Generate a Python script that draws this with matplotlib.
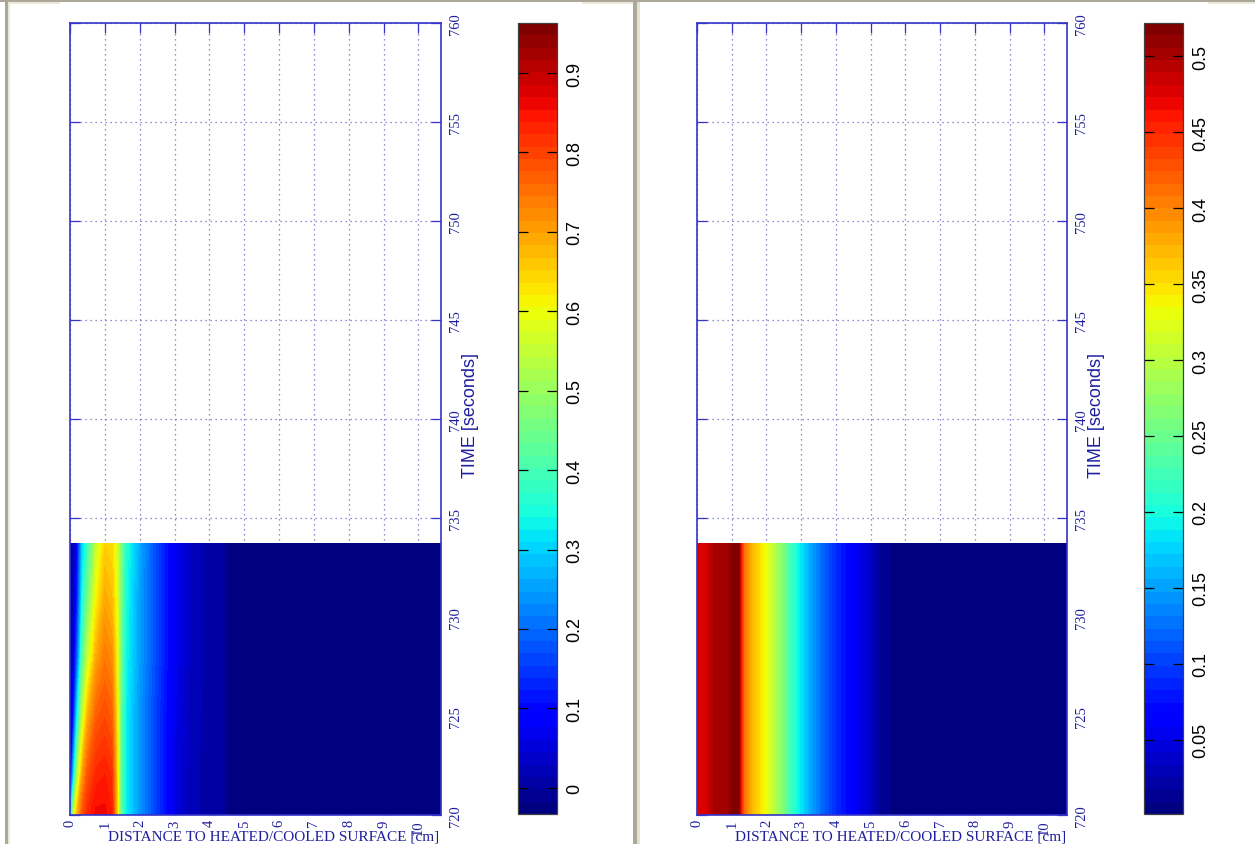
import numpy as np
import matplotlib

matplotlib.use("Agg")
import matplotlib.pyplot as plt
from matplotlib.patches import Rectangle
from matplotlib.ticker import FuncFormatter

# ---- data ----------------------------------------------------------------
# left panel: transient field, rows = time [s], columns = distance [cm]
dist_left = [0, 0.1, 0.2, 0.35, 0.5, 0.75, 1.0, 1.2, 1.35, 1.45, 1.6,
             2.0, 2.5, 3.0, 3.5, 4.0, 4.4, 4.5, 6.0, 8.0, 10.65]
time_left = [720, 722, 725, 728, 731, 733.7]
field_720 = [0.30, 0.55, 0.68, 0.78, 0.83, 0.86, 0.86, 0.84, 0.66, 0.45, 0.33,
             0.24, 0.15, 0.06, 0.02, 0.005, 0.0, -0.02, -0.025, -0.025, -0.025]
field_722 = [0.05, 0.30, 0.52, 0.70, 0.78, 0.83, 0.84, 0.82, 0.65, 0.45, 0.33,
             0.24, 0.15, 0.06, 0.02, 0.005, 0.0, -0.02, -0.025, -0.025, -0.025]
field_725 = [0.00, 0.12, 0.32, 0.55, 0.68, 0.77, 0.79, 0.77, 0.63, 0.45, 0.33,
             0.24, 0.15, 0.065, 0.022, 0.006, 0.0, -0.02, -0.025, -0.025, -0.025]
field_728 = [-0.01, 0.06, 0.18, 0.42, 0.55, 0.69, 0.74, 0.72, 0.61, 0.46, 0.34,
             0.25, 0.16, 0.07, 0.025, 0.007, 0.0, -0.02, -0.025, -0.025, -0.025]
field_731 = [-0.01, 0.03, 0.12, 0.34, 0.45, 0.61, 0.69, 0.67, 0.59, 0.47, 0.35,
             0.25, 0.16, 0.07, 0.025, 0.008, 0.0, -0.02, -0.025, -0.025, -0.025]
field_734 = [-0.01, 0.02, 0.09, 0.30, 0.38, 0.55, 0.65, 0.64, 0.57, 0.48, 0.36,
             0.26, 0.16, 0.07, 0.025, 0.008, 0.0, -0.02, -0.025, -0.025, -0.025]
clim_left = (-0.033, 0.963)
cbar_ticks_left = [0, 0.1, 0.2, 0.3, 0.4, 0.5, 0.6, 0.7, 0.8, 0.9]

# right panel: steady profile, same at every time
dist_right = [0, 0.3, 0.5, 0.9, 1.0, 1.2, 1.27, 1.35, 1.6, 2.0, 2.3, 2.6,
              2.85, 3.2, 3.6, 4.0, 4.5, 5.0, 5.3, 6.0, 10.65]
profile_right = [0.48, 0.48, 0.50, 0.505, 0.515, 0.52, 0.46, 0.41, 0.37, 0.33,
                 0.29, 0.24, 0.20, 0.16, 0.12, 0.09, 0.06, 0.035, 0.012,
                 0.004, 0.002]
time_right = [720, 733.7]
clim_right = (0.001, 0.522)
cbar_ticks_right = [0.05, 0.1, 0.15, 0.2, 0.25, 0.3, 0.35, 0.4, 0.45, 0.5]

x_ticks = list(range(11))
t_ticks = list(range(720, 761, 5))
xlabel = "DISTANCE TO HEATED/COOLED SURFACE [cm]"
ylabel = "TIME [seconds]"

# ---- styling --------------------------------------------------------------
W, H = 1255, 845
AX_BLUE = "#3434c8"
TXT_BLUE = "#1e1e9e"
GRID_BLUE = "#6a6ac0"
SERIF = "Liberation Serif"
SANS = "Liberation Sans"
cmap = plt.get_cmap("jet", 64)


def px_rect(x0, y0, x1, y1):
    """figure-fraction rect from pixel box (top-left origin)."""
    return [x0 / W, 1 - y1 / H, (x1 - x0) / W, (y1 - y0) / H]


def panel(fig, ax_box, cb_box, x, t, z, clim, cticks):
    ax = fig.add_axes(px_rect(*ax_box))
    cax = fig.add_axes(px_rect(*cb_box))
    levels = np.linspace(clim[0], clim[1], 65)
    zz = np.clip(np.asarray(z, dtype=float), clim[0], clim[1])
    cs = ax.contourf(x, t, zz, levels=levels, cmap=cmap,
                     vmin=clim[0], vmax=clim[1], antialiased=False)
    cs.set_snap(False)
    ax.set_xlim(0, 10.65)
    ax.set_ylim(720, 760)
    ax.set_xticks(x_ticks)
    ax.set_yticks(t_ticks)
    ax.set_axisbelow(True)
    ax.grid(True, color=GRID_BLUE, ls=(0, (1, 3)), lw=0.9)
    for sp in ax.spines.values():
        sp.set_color(AX_BLUE)
        sp.set_linewidth(1.2)
    ax.tick_params(direction="in", length=7, width=0.9, color=AX_BLUE,
                   top=True, bottom=True, left=True, right=True,
                   labelleft=False, labelright=True, labelcolor=TXT_BLUE)
    ax.tick_params(axis="x", pad=3)
    ax.tick_params(axis="y", pad=6)
    for lab in ax.get_xticklabels():
        lab.set(rotation=90, ha="center", va="top", family=SERIF,
                fontsize=10.5)
    for lab in ax.get_yticklabels():
        lab.set(rotation=90, ha="left", va="center", family=SERIF,
                fontsize=10.5)
    ax.text(0.55, -0.026, xlabel, transform=ax.transAxes, ha="center",
            va="center", family=SERIF, fontsize=11, color=TXT_BLUE)
    ax.text(1.08, 0.506, ylabel, transform=ax.transAxes, rotation=90,
            ha="center", va="center", family=SANS, fontsize=13,
            color=TXT_BLUE)

    cb = fig.colorbar(cs, cax=cax, ticks=cticks)
    cb.outline.set_edgecolor("#404040")
    cb.outline.set_linewidth(0.9)
    cax.minorticks_off()
    cax.yaxis.set_major_formatter(FuncFormatter(lambda v, _: f"{v:g}"))
    cax.tick_params(direction="in", length=7, width=0.9, color="black",
                    left=True, right=True, labelleft=False,
                    labelright=True, pad=7)
    for lab in cax.get_yticklabels():
        lab.set(rotation=90, ha="left", va="center", family=SANS,
                fontsize=13)
    return ax


fig = plt.figure(figsize=(W / 100, H / 100), dpi=100)
fig.patch.set_facecolor("white")

z_left = [field_720, field_722, field_725, field_728, field_731, field_734]
panel(fig, (70, 24, 441, 816), (518, 24, 557, 815),
      dist_left, time_left, z_left, clim_left, cbar_ticks_left)

z_right = [profile_right for _ in time_right]
panel(fig, (697, 24, 1067, 816), (1144, 24, 1183, 815),
      dist_right, time_right, z_right, clim_right, cbar_ticks_right)

# window frame remnants of the screenshot
for x0, y0, x1, y1, c in [(0, 0, W, 3, "#aca899"),
                          (8, 3, 60, 5, "#ece9d8"),
                          (582, 3, 633, 5, "#ece9d8"),
                          (1208, 3, W, 5, "#ece9d8"),
                          (5, 3, 8, H, "#aca899"),
                          (8, 5, 10, H, "#ece9d8"),
                          (633, 3, 637, H, "#aca899"),
                          (637, 3, 640, H, "#e4e1d4")]:
    fig.add_artist(Rectangle((x0 / W, 1 - y1 / H), (x1 - x0) / W,
                             (y1 - y0) / H, transform=fig.transFigure,
                             facecolor=c, edgecolor="none", zorder=10))

fig.savefig("out.png", dpi=100)
